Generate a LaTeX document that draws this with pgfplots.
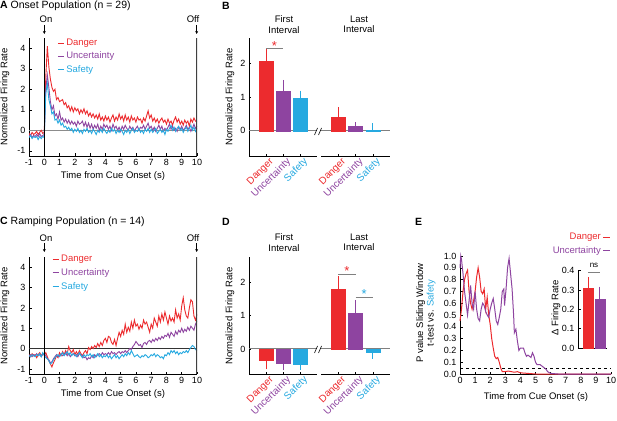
\documentclass[border=0pt]{standalone}
\usepackage{fontspec}
\setmainfont{Liberation Sans}
\usepackage{pgfplots}
\usepackage{pgfplotstable}
\pgfplotsset{compat=1.18}
\usetikzlibrary{arrows.meta}
\definecolor{cD}{RGB}{236,43,46}
\definecolor{cU}{RGB}{142,68,160}
\definecolor{cS}{RGB}{38,169,224}

\pgfplotstableread{
t d u s
-1.0 -0.15 -0.3 -0.35
-0.9 -0.25 -0.2 -0.25
-0.8 -0.1 -0.35 -0.4
-0.7 -0.2 -0.25 -0.3
-0.6 -0.15 -0.3 -0.35
-0.5 -0.05 -0.2 -0.3
-0.4 -0.2 -0.3 -0.45
-0.3 -0.1 -0.15 -0.3
-0.2 0.0 -0.3 -0.4
-0.1 -0.15 -0.25 -0.3
0.0 -0.1 -0.2 -0.35
0.1 2.6 2.0 1.8
0.2 4.1 2.7 2.3
0.3 3.1 2.1 1.5
0.4 2.5 1.4 1.2
0.5 2.1 1.0 0.8
0.6 1.9 1.2 0.9
0.7 2.0 0.7 0.5
0.8 1.5 0.8 0.55
0.9 1.6 0.55 0.35
1.0 1.4 0.9 0.5
1.1 1.45 0.5 0.25
1.2 1.5 0.6 0.35
1.3 1.25 0.4 0.15
1.4 1.35 0.55 0.2
1.5 1.1 0.35 0.05
1.6 1.2 0.5 0.15
1.7 0.95 0.3 0.0
1.8 1.15 0.45 0.1
1.9 0.9 0.3 -0.1
2.0 1.1 0.4 0.05
2.1 0.95 0.2 -0.05
2.2 1.05 0.45 0.1
2.3 0.8 0.3 -0.1
2.4 1.0 0.35 0.0
2.5 0.85 0.45 -0.15
2.6 1.05 0.2 0.05
2.7 0.8 0.4 -0.05
2.8 0.95 0.15 0.1
2.9 0.7 0.35 -0.1
3.0 0.85 0.1 0.0
3.1 0.65 0.3 -0.15
3.2 0.8 0.05 0.05
3.3 0.6 0.25 -0.05
3.4 0.75 0.1 -0.2
3.5 0.55 0.3 0.0
3.6 0.8 0.0 -0.1
3.7 0.5 0.2 0.05
3.8 0.65 0.05 -0.1
3.9 0.45 0.3 0.1
4.0 0.7 0.15 -0.05
4.1 0.5 0.25 -0.15
4.2 0.65 0.05 0.0
4.3 0.4 0.2 -0.1
4.4 0.6 0.0 0.1
4.5 0.75 0.3 -0.05
4.6 0.45 0.1 0.05
4.7 0.65 0.2 -0.15
4.8 0.5 0.0 0.0
4.9 0.8 0.15 -0.1
5.0 0.55 -0.05 0.05
5.1 0.7 0.2 -0.05
5.2 0.45 0.05 -0.2
5.3 0.75 0.25 0.0
5.4 0.5 0.1 -0.1
5.5 0.65 0.0 0.05
5.6 0.4 0.2 -0.15
5.7 0.7 0.05 0.0
5.8 0.5 0.15 0.1
5.9 0.6 -0.05 -0.1
6.0 0.4 0.1 0.0
6.1 0.65 0.2 -0.05
6.2 0.5 0.0 0.1
6.3 0.55 0.15 -0.1
6.4 0.35 0.1 0.0
6.5 0.6 0.25 -0.15
6.6 0.45 0.05 0.05
6.7 0.7 0.2 -0.05
6.8 0.95 0.35 0.1
6.9 0.6 0.1 -0.1
7.0 0.75 0.2 0.05
7.1 0.45 0.0 -0.1
7.2 0.6 0.15 0.0
7.3 0.4 -0.05 0.1
7.4 0.55 0.1 -0.15
7.5 0.35 0.25 -0.05
7.6 0.5 0.05 0.05
7.7 0.6 0.2 -0.1
7.8 0.4 -0.05 0.0
7.9 0.5 0.1 -0.2
8.0 0.3 0.0 0.05
8.1 0.55 0.15 -0.05
8.2 0.35 0.3 0.1
8.3 0.45 0.05 0.25
8.4 0.25 0.2 0.0
8.5 0.5 0.0 0.15
8.6 0.65 0.1 -0.05
8.7 0.4 -0.05 0.1
8.8 0.55 0.15 0.2
8.9 0.3 0.05 0.0
9.0 0.45 0.2 0.1
9.1 0.25 0.0 -0.1
9.2 0.5 0.1 0.05
9.3 0.35 0.25 0.15
9.4 0.45 0.05 -0.05
9.5 0.2 0.15 0.1
9.6 0.55 -0.05 0.25
9.7 0.4 0.1 0.0
9.8 0.6 0.3 0.15
9.9 0.45 0.1 -0.05
10.0 0.4 0.2 0.1
}\tabA

\pgfplotstableread{
t d u s
-1.0 -0.3 -0.35 -0.35
-0.9 -0.4 -0.3 -0.4
-0.8 -0.25 -0.4 -0.3
-0.7 -0.35 -0.3 -0.35
-0.6 -0.3 -0.35 -0.4
-0.5 -0.45 -0.25 -0.3
-0.4 -0.3 -0.35 -0.35
-0.3 -0.2 -0.3 -0.25
-0.2 -0.35 -0.4 -0.4
-0.1 -0.25 -0.3 -0.2
0.0 -0.3 -0.25 -0.35
0.1 -0.2 -0.35 -0.45
0.2 -0.4 -0.5 -0.5
0.3 -0.6 -0.55 -0.6
0.4 -0.75 -0.7 -0.75
0.5 -0.9 -0.65 -0.7
0.6 -0.7 -0.5 -0.55
0.7 -0.55 -0.4 -0.45
0.8 -0.35 -0.3 -0.35
0.9 -0.45 -0.4 -0.3
1.0 -0.2 -0.35 -0.4
1.1 -0.35 -0.25 -0.3
1.2 -0.15 -0.35 -0.2
1.3 -0.3 -0.3 -0.35
1.4 -0.1 -0.2 -0.25
1.5 -0.25 -0.35 -0.15
1.6 0.1 -0.25 -0.3
1.7 -0.1 -0.4 -0.2
1.8 -0.2 -0.3 -0.35
1.9 -0.05 -0.25 -0.25
2.0 -0.3 -0.35 -0.3
2.1 -0.15 -0.3 -0.4
2.2 -0.3 -0.4 -0.3
2.3 -0.1 -0.25 -0.2
2.4 -0.25 -0.3 -0.35
2.5 -0.35 -0.35 -0.45
2.6 -0.2 -0.45 -0.3
2.7 -0.1 -0.4 -0.4
2.8 -0.25 -0.55 -0.3
2.9 0.05 -0.45 -0.35
3.0 -0.05 -0.5 -0.25
3.1 0.1 -0.35 -0.4
3.2 0.0 -0.45 -0.3
3.3 0.15 -0.3 -0.45
3.4 0.05 -0.4 -0.35
3.5 0.25 -0.3 -0.25
3.6 0.1 -0.25 -0.4
3.7 0.3 -0.35 -0.3
3.8 0.15 -0.2 -0.45
3.9 0.4 -0.3 -0.35
4.0 0.5 -0.25 -0.4
4.1 0.3 -0.3 -0.3
4.2 0.6 -0.2 -0.45
4.3 0.55 -0.3 -0.35
4.4 0.3 -0.15 -0.5
4.5 0.2 -0.25 -0.4
4.6 0.45 -0.2 -0.3
4.7 0.15 -0.3 -0.45
4.8 0.5 -0.2 -0.35
4.9 0.8 -0.15 -0.5
5.0 0.6 -0.25 -0.4
5.1 0.9 -0.15 -0.3
5.2 0.7 -0.2 -0.4
5.3 1.2 -0.1 -0.25
5.4 0.8 -0.2 -0.35
5.5 1.05 -0.1 -0.2
5.6 0.85 0.0 -0.3
5.7 1.3 -0.05 -0.1
5.8 1.0 0.1 -0.25
5.9 1.4 0.2 -0.4
6.0 1.1 0.35 -0.35
6.1 1.2 0.25 -0.3
6.2 0.95 0.15 -0.4
6.3 1.15 0.2 -0.45
6.4 1.0 0.05 -0.35
6.5 1.4 0.25 -0.4
6.6 1.2 0.3 -0.3
6.7 1.3 0.2 -0.35
6.8 1.05 0.35 -0.45
6.9 0.8 0.4 -0.4
7.0 1.2 0.3 -0.3
7.1 1.0 0.45 -0.35
7.2 1.5 0.35 -0.25
7.3 1.3 0.5 -0.4
7.4 1.1 0.4 -0.3
7.5 1.6 0.55 -0.35
7.6 1.3 0.45 -0.45
7.7 1.7 0.6 -0.4
7.8 1.4 0.5 -0.5
7.9 1.8 0.65 -0.3
8.0 1.5 0.6 -0.35
8.1 1.2 0.75 -0.2
8.2 1.6 0.55 -0.3
8.3 1.35 0.8 -0.1
8.4 1.5 0.7 -0.2
8.5 1.3 0.6 -0.1
8.6 1.9 0.85 -0.25
8.7 1.5 0.7 -0.15
8.8 1.7 0.9 -0.3
8.9 1.4 0.8 -0.2
9.0 2.1 1.0 -0.25
9.1 2.5 0.8 -0.15
9.2 1.9 0.95 -0.2
9.3 1.6 0.85 -0.1
9.4 1.5 1.05 -0.2
9.5 2.0 0.9 -0.05
9.6 2.4 1.1 0.05
9.7 2.3 1.0 0.15
9.8 1.6 0.9 0.1
9.9 1.4 1.2 -0.05
10.0 1.7 1.35 -0.1
}\tabC

\pgfplotstableread{
t p
0.0 0.45
0.1 0.55
0.2 0.7
0.3 0.8
0.4 0.85
0.5 0.88
0.6 0.7
0.7 0.6
0.8 0.55
0.9 0.62
1.0 0.7
1.1 0.82
1.2 0.9
1.3 0.82
1.4 0.7
1.5 0.68
1.6 0.72
1.7 0.55
1.8 0.65
1.9 0.5
2.0 0.42
2.1 0.3
2.2 0.22
2.3 0.15
2.4 0.13
2.5 0.14
2.6 0.1
2.7 0.05
2.8 0.02
2.9 0.02
3.0 0.02
3.2 0.025
3.4 0.02
3.6 0.015
3.8 0.02
4.0 0.01
4.5 0.005
5.0 0.0
10.0 0.0
}\tabED

\pgfplotstableread{
t p
0.0 0.9
0.05 1.0
0.1 0.97
0.2 0.85
0.3 0.7
0.4 0.6
0.5 0.5
0.6 0.62
0.7 0.75
0.8 0.6
0.9 0.55
1.0 0.7
1.1 0.55
1.2 0.47
1.3 0.45
1.4 0.55
1.5 0.6
1.6 0.58
1.7 0.53
1.8 0.5
1.9 0.48
2.0 0.55
2.1 0.6
2.2 0.64
2.3 0.55
2.4 0.45
2.5 0.42
2.6 0.48
2.7 0.55
2.8 0.7
2.9 0.72
2.95 0.58
3.05 0.72
3.15 0.9
3.25 0.98
3.35 0.85
3.45 0.72
3.55 0.5
3.6 0.35
3.7 0.38
3.8 0.28
3.9 0.2
4.0 0.22
4.2 0.22
4.3 0.18
4.4 0.15
4.5 0.16
4.7 0.14
4.8 0.18
4.9 0.15
5.0 0.1
5.1 0.08
5.3 0.08
5.5 0.06
5.7 0.04
5.8 0.02
6.0 0.005
6.5 0.0
10.0 0.0
}\tabEU

\newcommand{\fs}[1]{\fontsize{#1}{#1}\selectfont}
\newcommand{\mybar}[5]{\addplot[ybar, bar width=14pt, bar shift=0pt, fill=#1, draw=#1,
  error bars/.cd, y dir=#5, y explicit, error bar style={draw=#1, line width=1pt},
  error mark options={draw=#1, mark size=3pt, line width=1pt}] coordinates {(#2,#3) +- (0,#4)};}

\pgfplotsset{
  every axis/.append style={scale only axis, font=\fs{9},
    /pgf/number format/assume math mode=true,
    tick align=inside, major tick length=2.5pt,
    tick style={black, line width=0.5pt},
    axis line style={black, line width=0.6pt}},
  trace/.style={line width=0.9pt, no markers},
  timeax/.style={anchor=south west, width=168pt, xmin=-1, xmax=10, ymin=-1.25, ymax=4.5,
    axis x line*=bottom, axis y line*=left, xtick={-1,0,...,10}, ytick={-1,0,...,4},
    legend image code/.code={\draw[##1, line width=1pt] (0pt,0pt) -- (6pt,0pt);},
    legend cell align=left},
  catlabels/.style={xtick={1,2,3}, major tick length=2pt,
    xticklabels={\textcolor{cD}{Danger},\textcolor{cU}{Uncertainty},\textcolor{cS}{Safety}},
    xticklabel style={rotate=45, anchor=north east, font=\fs{10}, inner sep=0.5pt, yshift=-2pt, xshift=2pt}},
  barL/.style={anchor=south west, width=68pt, xmin=0, xmax=4, ymin=-0.75, ymax=2.75,
    axis x line*=bottom, axis y line*=left, ytick={0,1,2}, catlabels},
  barR/.style={anchor=south west, width=69pt, xmin=0, xmax=4, ymin=-0.75, ymax=2.75,
    axis x line*=bottom, axis y line=none, ytick=\empty, catlabels},
}

\begin{document}
\begin{tikzpicture}[x=1pt,y=1pt]
\useasboundingbox (0,0) rectangle (617,420);

% ---------------- Panel A ----------------
\node[anchor=west, font=\fs{10.5}, inner sep=0] at (0,414) {\textbf{A} Onset Population (n = 29)};
\node[font=\fs{9.5}] at (46,401) {On};
\draw[-{Stealth[length=3pt,width=3pt]}, line width=0.6pt] (44.3,395) -- (44.3,386);
\node[font=\fs{9.5}] at (193,401) {Off};
\draw[-{Stealth[length=3pt,width=3pt]}, line width=0.6pt] (196.7,395) -- (196.7,386);
\node[rotate=90, font=\fs{9.5}] at (5,323) {Normalized Firing Rate};
\node[font=\fs{9.5}] at (113,244) {Time from Cue Onset (s)};
\begin{axis}[timeax, at={(29pt,264pt)}, height=118pt,
  legend style={at={(axis description cs:0.167,1.01)}, anchor=north west, draw=none, fill=none,
    inner sep=0pt, font=\fs{9.5}, row sep=1pt}]
\draw[black!45, line width=1.5pt] (axis cs:-1,0) -- (axis cs:10,0);
\addplot[trace, cD] table[x=t, y=d] {\tabA};
\addlegendentry{\textcolor{cD}{Danger}}
\addplot[trace, cU] table[x=t, y=u] {\tabA};
\addlegendentry{\textcolor{cU}{Uncertainty}}
\addplot[trace, cS] table[x=t, y=s] {\tabA};
\addlegendentry{\textcolor{cS}{Safety}}
\draw[black, line width=0.6pt] (axis cs:0,-1.25) -- (axis cs:0,4.5);
\draw[black!75, line width=1.2pt] (axis cs:10,-1.25) -- (axis cs:10,4.5);
\end{axis}

% ---------------- Panel B ----------------
\node[anchor=west, font=\fs{10.5}, inner sep=0] at (222,414) {\textbf{B}};
\node[align=center, font=\fs{9.5}] at (284,395.5) {First\\[1pt]Interval};
\node[align=center, font=\fs{9.5}] at (359,395.5) {Last\\[1pt]Interval};
\node[rotate=90, font=\fs{9.5}] at (230,323) {Normalized Firing Rate};
\begin{axis}[barL, at={(249pt,264pt)}, height=118pt]
\draw[black!50, line width=0.9pt] (axis cs:0,0) -- (axis cs:4,0);
\mybar{cD}{1}{2.05}{0.27}{plus}
\mybar{cU}{2}{1.18}{0.24}{plus}
\mybar{cS}{3}{0.97}{0.13}{plus}
\draw[black!50, line width=0.8pt] (axis cs:1,2.43) -- (axis cs:2,2.43);
\node[text=cD, font=\fs{13}, inner sep=0] at (axis cs:1.5,2.52) {*};
\end{axis}
\begin{axis}[barR, at={(321pt,264pt)}, height=118pt]
\draw[black!50, line width=0.9pt] (axis cs:0,0) -- (axis cs:4,0);
\mybar{cD}{1}{0.40}{0.20}{plus}
\mybar{cU}{2}{0.12}{0.04}{plus}
\mybar{cS}{3}{0.03}{0.10}{plus}
\end{axis}
\draw[line width=0.6pt] (314.5,285) -- (317.5,292);
\draw[line width=0.6pt] (318.5,285) -- (321.5,292);

% ---------------- Panel C ----------------
\node[anchor=west, font=\fs{10.5}, inner sep=0] at (0,198) {\textbf{C} Ramping Population (n = 14)};
\node[font=\fs{9.5}] at (46,182) {On};
\draw[-{Stealth[length=3pt,width=3pt]}, line width=0.6pt] (44.3,177) -- (44.3,168);
\node[font=\fs{9.5}] at (193,182) {Off};
\draw[-{Stealth[length=3pt,width=3pt]}, line width=0.6pt] (196.7,177) -- (196.7,168);
\node[rotate=90, font=\fs{9.5}] at (5,104) {Normalized Firing Rate};
\node[font=\fs{9.5}] at (113,26) {Time from Cue Onset (s)};
\begin{axis}[timeax, at={(29pt,46pt)}, height=117pt,
  legend style={at={(axis description cs:0.137,1.035)}, anchor=north west, draw=none, fill=none,
    inner sep=0pt, font=\fs{9.5}, row sep=1.5pt}]
\draw[black!80, line width=0.7pt] (axis cs:-1,0) -- (axis cs:10,0);
\addplot[trace, cD] table[x=t, y=d] {\tabC};
\addlegendentry{\textcolor{cD}{Danger}}
\addplot[trace, cU] table[x=t, y=u] {\tabC};
\addlegendentry{\textcolor{cU}{Uncertainty}}
\addplot[trace, cS] table[x=t, y=s] {\tabC};
\addlegendentry{\textcolor{cS}{Safety}}
\draw[black, line width=0.6pt] (axis cs:0,-1.25) -- (axis cs:0,4.5);
\draw[black!75, line width=1.2pt] (axis cs:10,-1.25) -- (axis cs:10,4.5);
\end{axis}

% ---------------- Panel D ----------------
\node[anchor=west, font=\fs{10.5}, inner sep=0] at (222,198) {\textbf{D}};
\node[align=center, font=\fs{9.5}] at (284,177.5) {First\\[1pt]Interval};
\node[align=center, font=\fs{9.5}] at (359,177.5) {Last\\[1pt]Interval};
\node[rotate=90, font=\fs{9.5}] at (230,104) {Normalized Firing Rate};
\begin{axis}[barL, at={(249pt,46pt)}, height=117pt]
\draw[black!50, line width=0.9pt] (axis cs:0,0) -- (axis cs:4,0);
\mybar{cD}{1}{-0.35}{0.17}{minus}
\mybar{cU}{2}{-0.43}{0.12}{minus}
\mybar{cS}{3}{-0.46}{0.07}{minus}
\end{axis}
\begin{axis}[barR, at={(321pt,46pt)}, height=117pt]
\draw[black!50, line width=0.9pt] (axis cs:0,0) -- (axis cs:4,0);
\mybar{cD}{1}{1.78}{0.30}{plus}
\mybar{cU}{2}{1.08}{0.30}{plus}
\mybar{cS}{3}{-0.10}{0.10}{minus}
\draw[black!50, line width=0.8pt] (axis cs:1,2.24) -- (axis cs:2,2.24);
\node[text=cD, font=\fs{13}, inner sep=0] at (axis cs:1.5,2.33) {*};
\draw[black!50, line width=0.8pt] (axis cs:2,1.54) -- (axis cs:3,1.54);
\node[text=cS, font=\fs{13}, inner sep=0] at (axis cs:2.5,1.63) {*};
\end{axis}
\draw[line width=0.6pt] (314.5,67) -- (317.5,74);
\draw[line width=0.6pt] (318.5,67) -- (321.5,74);

% ---------------- Panel E ----------------
\node[anchor=west, font=\fs{10.5}, inner sep=0] at (415,198) {\textbf{E}};
\node[rotate=90, align=center, font=\fs{9.5}] at (426,107) {P value Sliding Window\\[1pt]t-test vs. \textcolor{cS}{Safety}};
\node[font=\fs{9.5}] at (536,23) {Time from Cue Onset (s)};
\begin{axis}[anchor=south west, at={(460pt,46pt)}, width=151pt, height=118pt,
  xmin=0, xmax=10, ymin=0, ymax=1, clip=false,
  axis x line*=bottom, axis y line*=left,
  xtick={0,1,...,10}, ytick={0,0.1,0.2,0.3,0.4,0.5,0.6,0.7,0.8,0.9,1},
  yticklabel style={/pgf/number format/.cd, fixed, fixed zerofill, precision=1},
  legend plot pos=right, legend cell align=right,
  legend image code/.code={\draw[#1, line width=1pt] (0pt,0pt) -- (7pt,0pt);},
  legend style={at={(axis description cs:1.0,1.21)}, anchor=north east, draw=none, fill=none,
    inner sep=0pt, font=\fs{9.5}, row sep=1pt}]
\draw[black, dashed, line width=0.6pt] (axis cs:0,0.05) -- (axis cs:10,0.05);
\addplot[trace, cD, line width=1pt] table[x=t, y=p] {\tabED};
\addlegendentry{\textcolor{cD}{Danger}}
\addplot[trace, cU, line width=1pt] table[x=t, y=p] {\tabEU};
\addlegendentry{\textcolor{cU}{Uncertainty}}
\end{axis}
\node[rotate=90, font=\fs{9.5}] at (556,112) {Δ Firing Rate};
\begin{axis}[anchor=south west, at={(578pt,72pt)}, width=29pt, height=77.3pt,
  xmin=0.15, xmax=2.6, ymin=0, ymax=0.4, clip=false,
  axis x line*=bottom, axis y line*=left, xtick=\empty,
  ytick={0,0.1,0.2,0.3,0.4},
  yticklabel style={/pgf/number format/.cd, fixed, fixed zerofill, precision=1}]
\addplot[ybar, bar width=10pt, bar shift=0pt, fill=cD, draw=cD,
  error bars/.cd, y dir=plus, y explicit, error bar style={draw=cD, line width=1pt},
  error mark options={draw=cD, mark size=2.5pt, line width=1pt}] coordinates {(1,0.31) +- (0,0.045)};
\addplot[ybar, bar width=10pt, bar shift=0pt, fill=cU, draw=cU,
  error bars/.cd, y dir=plus, y explicit, error bar style={draw=cU, line width=1pt},
  error mark options={draw=cU, mark size=2.5pt, line width=1pt}] coordinates {(2,0.25) +- (0,0.055)};
\draw[black!50, line width=0.6pt] (axis cs:1,0.39) -- (axis cs:2,0.39);
\node[font=\fs{8}, inner sep=0] at (axis cs:1.5,0.425) {ns};
\end{axis}
\end{tikzpicture}
\end{document}
